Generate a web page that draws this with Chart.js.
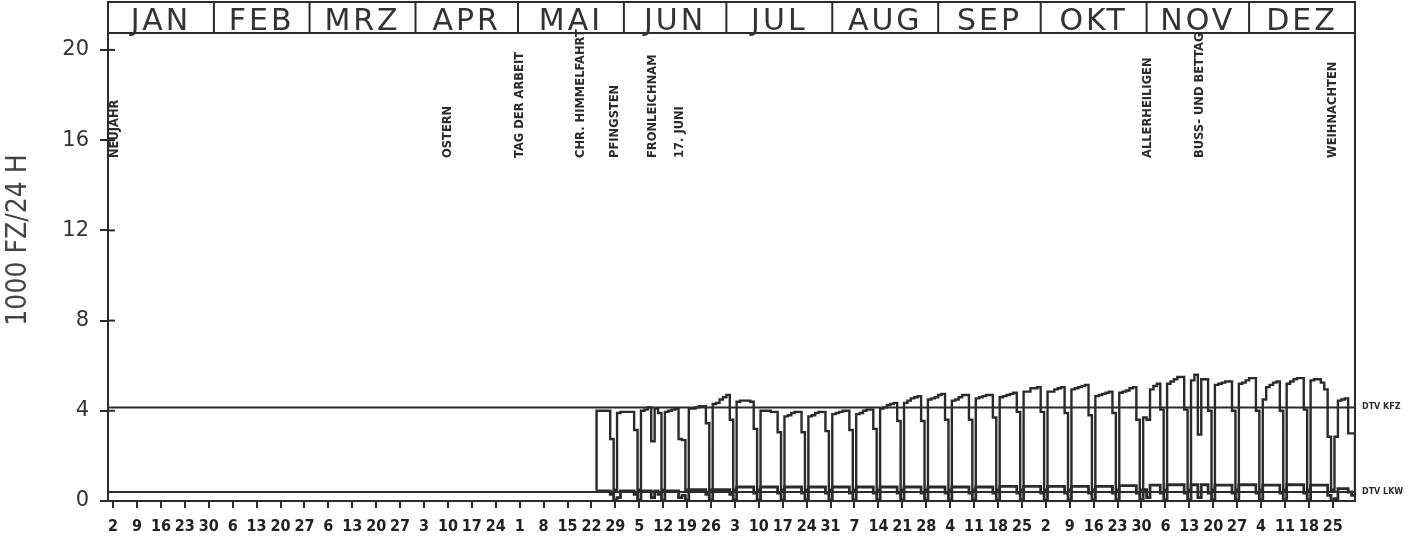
<!DOCTYPE html>
<html>
<head>
<meta charset="utf-8">
<script src="https://cdn.jsdelivr.net/npm/chart.js@4.4.1/dist/chart.umd.min.js"></script>
<style>
  html,body{margin:0;padding:0;background:#fff}
</style>
</head>
<body>
<canvas id="chart" width="1427" height="540"></canvas>
<script>
/* ===== Data (1977, daily values in 1000 Fz/24h) ===== */
const months = ['JAN','FEB','MRZ','APR','MAI','JUN','JUL','AUG','SEP','OKT','NOV','DEZ'];
const monthStart = [0,31,59,90,120,151,181,212,243,273,304,334];

// Sundays, day of month
const tickLabels = ['2','9','16','23','30','6','13','20','27','6','13','20','27','3','10','17','24',
  '1','8','15','22','29','5','12','19','26','3','10','17','24','31','7','14','21','28',
  '4','11','18','25','2','9','16','23','30','6','13','20','27','4','11','18','25'];
const firstTickDay = 1;   // 2 Jan = day index 1
const yTicks = [0,4,8,12,16,20];

const holidayNames = ['NEUJAHR','OSTERN','TAG DER ARBEIT','CHR. HIMMELFAHRT','PFINGSTEN',
  'FRONLEICHNAM','17. JUNI','ALLERHEILIGEN','BUSS- UND BETTAG','WEIHNACHTEN'];
const holidayDays = [0,99,120,138,148,159,167,304,319,358];

const dtvKfz = 4.15;
const dtvLkw = 0.4;

const firstDataDay = 143;  // 24 May
// KFZ (all vehicles)
const kfzMay = [4.0,4.0,4.0,4.0,2.75,0.5,3.9,3.95];
const kfzJun = [3.95,3.95,3.95,3.15,0.5,4.0,4.05,4.15,2.65,4.1,3.9,0.5,3.95,4.0,4.05,
  4.1,2.75,2.7,0.5,4.1,4.1,4.15,4.2,4.2,3.45,0.5,4.3,4.35,4.5,4.6];
const kfzJul = [4.7,3.6,0.5,4.4,4.45,4.45,4.45,4.4,3.2,0.5,4.0,4.0,4.0,3.95,3.95,3.05,
  0.5,3.75,3.8,3.9,3.95,3.95,3.05,0.5,3.75,3.8,3.9,3.95,3.95,3.1,0.5];
const kfzAug = [3.85,3.9,3.95,4.0,4.0,3.15,0.5,3.85,3.9,4.0,4.05,4.05,3.2,0.5,4.1,4.15,
  4.25,4.3,4.35,3.55,0.5,4.35,4.45,4.55,4.6,4.65,3.55,0.5,4.5,4.55,4.6];
const kfzSep = [4.7,4.75,3.6,0.5,4.45,4.5,4.6,4.7,4.7,3.6,0.5,4.55,4.6,4.65,4.7,4.7,3.7,
  0.5,4.6,4.65,4.7,4.75,4.8,3.95,0.5,4.85,4.85,5.0,5.0,5.05];
const kfzOkt = [3.95,0.5,4.85,4.85,4.95,5.0,5.05,3.9,0.5,4.95,5.0,5.05,5.1,5.15,3.8,0.5,
  4.65,4.7,4.75,4.8,4.85,3.9,0.5,4.8,4.85,4.9,5.0,5.05,3.6,0.5,3.7];
const kfzNov = [3.6,4.95,5.1,5.2,4.05,0.5,5.2,5.3,5.4,5.5,5.5,4.05,0.5,5.35,5.6,2.95,
  5.4,5.4,4.0,0.5,5.15,5.2,5.25,5.3,5.3,4.0,0.5,5.2,5.25,5.35];
const kfzDez = [5.45,5.45,4.0,0.5,4.5,5.05,5.15,5.25,5.3,4.0,0.5,5.2,5.3,5.4,5.45,5.45,
  4.05,0.5,5.35,5.4,5.4,5.25,4.95,2.85,0.5,2.85,4.45,4.5,4.55,3.0,3.0];
// LKW (trucks)
const lkwMay = [0.45,0.45,0.45,0.45,0.3,0.05,0.15,0.45];
const lkwJun = [0.45,0.45,0.45,0.3,0.05,0.45,0.45,0.45,0.15,0.45,0.3,0.05,0.45,0.45,0.45,
  0.45,0.15,0.25,0.05,0.5,0.5,0.5,0.5,0.5,0.3,0.05,0.5,0.5,0.5,0.5];
const lkwJul = [0.5,0.3,0.05,0.62,0.62,0.62,0.62,0.62,0.35,0.05,0.62,0.62,0.62,0.62,0.62,0.35,
  0.05,0.62,0.62,0.62,0.62,0.62,0.35,0.05,0.62,0.62,0.62,0.62,0.62,0.35,0.05];
const lkwAug = [0.62,0.62,0.62,0.62,0.62,0.35,0.05,0.62,0.62,0.62,0.62,0.62,0.35,0.05,0.62,0.62,
  0.62,0.62,0.62,0.35,0.05,0.62,0.62,0.62,0.62,0.62,0.35,0.05,0.62,0.62,0.62];
const lkwSep = [0.62,0.62,0.35,0.05,0.62,0.62,0.62,0.62,0.62,0.35,0.05,0.62,0.62,0.62,0.62,0.62,
  0.35,0.05,0.65,0.65,0.65,0.65,0.65,0.35,0.05,0.65,0.65,0.65,0.65,0.65];
const lkwOkt = [0.35,0.05,0.65,0.65,0.65,0.65,0.65,0.35,0.05,0.65,0.65,0.65,0.65,0.65,0.35,0.05,
  0.65,0.65,0.65,0.65,0.65,0.35,0.05,0.68,0.68,0.68,0.68,0.68,0.35,0.05,0.5];
const lkwNov = [0.15,0.7,0.7,0.7,0.35,0.05,0.72,0.72,0.72,0.72,0.72,0.35,0.05,0.72,0.72,0.15,
  0.72,0.72,0.35,0.05,0.7,0.7,0.7,0.7,0.7,0.35,0.05,0.72,0.72,0.72];
const lkwDez = [0.72,0.72,0.35,0.05,0.7,0.7,0.7,0.7,0.7,0.35,0.05,0.72,0.72,0.72,0.72,0.72,
  0.35,0.05,0.7,0.7,0.7,0.7,0.7,0.25,0.05,0.1,0.55,0.55,0.55,0.4,0.25];

/* ===== Series -> points ===== */
const kfz = [...kfzMay,...kfzJun,...kfzJul,...kfzAug,...kfzSep,...kfzOkt,...kfzNov,...kfzDez];
const lkw = [...lkwMay,...lkwJun,...lkwJul,...lkwAug,...lkwSep,...lkwOkt,...lkwNov,...lkwDez];

// each day value covers [day, day+1]; kfz trace starts/ends at the lkw level like the plotter
function stepPoints(vals, startY, endY){
  const pts = [];
  if(startY!==undefined) pts.push({x:firstDataDay, y:startY});
  vals.forEach((v,i)=>pts.push({x:firstDataDay+i, y:v}));
  const endDay = firstDataDay+vals.length;
  pts.push({x:endDay, y:vals[vals.length-1]});
  if(endY!==undefined) pts.push({x:endDay, y:endY});
  return pts;
}
const kfzPts = stepPoints(kfz, lkw[0], lkw[lkw.length-1]);
const lkwPts = stepPoints(lkw);
const tickDays = tickLabels.map((_,i)=>firstTickDay + 7*i);

const INK = '#2b2b2b';

/* ===== Extra drawing: header, frame, holiday texts, DTV labels ===== */
const decor = {
  id:'decor',
  afterDraw(chart){
    const {ctx, chartArea:a, scales:{x,y}} = chart;
    ctx.save();
    ctx.strokeStyle = INK; ctx.lineWidth = 2;
    // frame top/right
    ctx.beginPath();
    ctx.moveTo(a.left, a.top); ctx.lineTo(a.right, a.top); ctx.lineTo(a.right, a.bottom);
    ctx.stroke();
    // month header
    const hTop = 2;
    ctx.strokeRect(a.left, hTop, a.right-a.left, a.top-hTop);
    ctx.fillStyle = '#333';
    ctx.font = '30px "DejaVu Sans"';
    ctx.textAlign = 'center'; ctx.textBaseline = 'alphabetic';
    ctx.letterSpacing = '3px';
    months.forEach((m,i)=>{
      const x0 = x.getPixelForValue(monthStart[i]);
      const x1 = x.getPixelForValue(i<11 ? monthStart[i+1] : 365);
      if(i>0){ ctx.beginPath(); ctx.moveTo(x0,hTop); ctx.lineTo(x0,a.top); ctx.stroke(); }
      ctx.fillText(m, (x0+x1)/2, 30);
    });
    ctx.letterSpacing = '0px';
    // y tick dashes crossing the axis
    yTicks.forEach(v=>{
      const py = y.getPixelForValue(v);
      ctx.beginPath(); ctx.moveTo(a.left, py); ctx.lineTo(a.left+7, py); ctx.stroke();
    });
    // holidays
    ctx.fillStyle = INK;
    ctx.font = 'bold 11.5px "DejaVu Sans"';
    ctx.textAlign = 'left'; ctx.textBaseline = 'middle';
    holidayNames.forEach((h,i)=>{
      const px = x.getPixelForValue(holidayDays[i]+0.5) + (i===0 ? 5 : 0);
      ctx.save();
      ctx.translate(px, 158);
      ctx.rotate(-Math.PI/2);
      ctx.fillText(h, 0, 0);
      ctx.restore();
    });
    // DTV labels
    ctx.font = 'bold 8px "DejaVu Sans"';
    ctx.fillText('DTV KFZ', a.right+7, y.getPixelForValue(dtvKfz));
    ctx.fillText('DTV LKW', a.right+7, y.getPixelForValue(dtvLkw));
    // y title
    ctx.save();
    ctx.translate(19, 240);
    ctx.rotate(-Math.PI/2);
    ctx.textAlign = 'center';
    ctx.fillStyle = '#444';
    ctx.font = '28px "DejaVu Sans Condensed", "DejaVu Sans"';
    ctx.fillText('1000 FZ/24 H', 0, 0);
    ctx.restore();
    ctx.restore();
  }
};

/* ===== Chart ===== */
const lineBase = {pointRadius:0, borderColor:INK, fill:false, tension:0};
new Chart(document.getElementById('chart'), {
  type:'line',
  data:{ datasets:[
    {...lineBase, label:'DTV KFZ', data:[{x:0,y:dtvKfz},{x:365,y:dtvKfz}], borderWidth:2},
    {...lineBase, label:'DTV LKW', data:[{x:0,y:dtvLkw},{x:365,y:dtvLkw}], borderWidth:2},
    {...lineBase, label:'KFZ', data:kfzPts, stepped:'before', borderWidth:2.4},
    {...lineBase, label:'LKW', data:lkwPts, stepped:'before', borderWidth:2.8}
  ]},
  options:{
    responsive:false, animation:false, devicePixelRatio:1,
    layout:{ padding:{top:33, right:72, left:0, bottom:0} },
    plugins:{ legend:{display:false}, tooltip:{enabled:false} },
    scales:{
      x:{
        type:'linear', min:0, max:365,
        afterBuildTicks: s => { s.ticks = tickDays.map(d=>({value:d+0.5})); },
        afterFit: s => { s.height = 39; },
        ticks:{ autoSkip:false, maxRotation:0, padding:9, color:'#222',
          font:{family:'"Liberation Sans Narrow", "DejaVu Sans Condensed", sans-serif', size:16, weight:'bold'},
          callback:(v,i)=>tickLabels[i] },
        grid:{ drawOnChartArea:false, tickLength:7, color:INK, lineWidth:2 },
        border:{ display:true, color:INK, width:2 }
      },
      y:{
        min:0, max:20.75,
        afterBuildTicks: s => { s.ticks = yTicks.map(v=>({value:v})); },
        afterFit: s => { s.width = 108; },
        ticks:{ padding:11, color:'#333', font:{family:'"DejaVu Sans"', size:21},
          callback:v=>String(v) },
        grid:{ drawOnChartArea:false, tickLength:8, color:INK, lineWidth:2 },
        border:{ display:true, color:INK, width:2 }
      }
    }
  },
  plugins:[decor]
});
</script>
</body>
</html>
